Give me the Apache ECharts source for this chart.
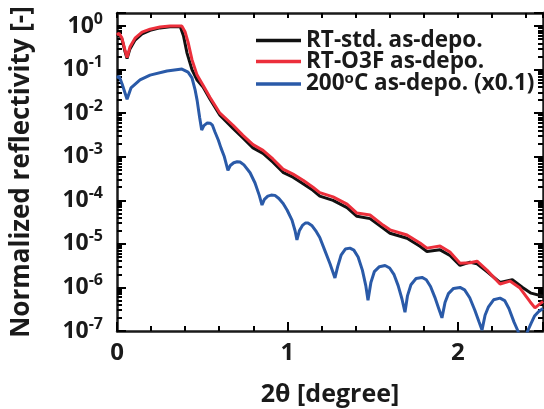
<!DOCTYPE html>
<html>
<head>
<meta charset="utf-8">
<script src="https://cdn.jsdelivr.net/npm/echarts@6/dist/echarts.min.js"></script>
<style>
  html, body { margin: 0; padding: 0; background: #fff; }
  #xrrChart { width: 544px; height: 409px; }
</style>
</head>
<body>
<div id="xrrChart"></div>
<script>
// RT-std. as-depo.
var stdX = [0, 0.012, 0.029, 0.047, 0.059, 0.076, 0.106, 0.147, 0.194, 0.252, 0.311, 0.36, 0.372, 0.39, 0.411, 0.44, 0.47, 0.505, 0.546, 0.604,
  0.681, 0.739, 0.798, 0.857, 0.915, 0.974, 1.033, 1.092, 1.15, 1.19, 1.268, 1.35, 1.408, 1.485, 1.561, 1.602, 1.702, 1.778, 1.819,
  1.896, 1.954, 2.013, 2.072, 2.113, 2.171, 2.248, 2.32, 2.38, 2.43, 2.5];
var stdY = [0.60, 0.66, 0.50, 0.26, 0.18, 0.30, 0.48, 0.66, 0.80, 0.91, 0.97, 0.98, 0.95, 0.6, 0.24, 0.10, 0.058, 0.04, 0.021, 0.009,
  4.5e-3, 2.7e-3, 1.6e-3, 1.2e-3, 7.5e-4, 4.4e-4, 3.4e-4, 2.4e-4, 1.7e-4, 1.25e-4, 1.0e-4, 6.8e-5, 4.3e-5, 3.8e-5, 2.3e-5, 1.75e-5, 1.35e-5, 8.8e-6, 6.7e-6,
  7.3e-6, 5.4e-6, 3.2e-6, 3.8e-6, 3.5e-6, 2.3e-6, 1.3e-6, 1.5e-6, 1.0e-6, 7.4e-7, 6.3e-7];

// RT-O3F as-depo.
var o3fX = [0, 0.012, 0.029, 0.047, 0.059, 0.076, 0.106, 0.147, 0.194, 0.252, 0.311, 0.381, 0.4, 0.417, 0.44, 0.47, 0.505, 0.546, 0.604,
  0.681, 0.739, 0.798, 0.857, 0.915, 0.974, 1.033, 1.092, 1.15, 1.19, 1.268, 1.35, 1.408, 1.485, 1.561, 1.602, 1.702, 1.778, 1.819,
  1.896, 1.954, 2.013, 2.072, 2.113, 2.171, 2.248, 2.306, 2.365, 2.424, 2.453, 2.5];
var o3fY = [0.62, 0.69, 0.53, 0.28, 0.19, 0.33, 0.53, 0.73, 0.85, 0.95, 1.0, 1.0, 0.73, 0.43, 0.17, 0.075, 0.044, 0.023, 0.010,
  5.3e-3, 3.1e-3, 1.9e-3, 1.4e-3, 8.9e-4, 5.2e-4, 4.0e-4, 2.9e-4, 2.0e-4, 1.5e-4, 1.2e-4, 8.2e-5, 5.1e-5, 4.6e-5, 2.7e-5, 2.1e-5, 1.6e-5, 1.05e-5, 8.0e-6,
  8.9e-6, 6.5e-6, 3.6e-6, 3.7e-6, 4.0e-6, 2.5e-6, 1.2e-6, 1.4e-6, 9.7e-7, 4.7e-7, 3.4e-7, 4.8e-7];

// 200oC as-depo. (x0.1)
var hotX = [0, 0.012, 0.03, 0.059, 0.082, 0.135, 0.194, 0.293, 0.381, 0.417, 0.44, 0.458, 0.47, 0.485, 0.497,
  0.51, 0.53, 0.546, 0.56, 0.575, 0.595, 0.61, 0.63, 0.651,
  0.665, 0.685, 0.705, 0.722, 0.745, 0.781, 0.81, 0.835, 0.851,
  0.865, 0.885, 0.905, 0.927, 0.95, 0.975, 0.998, 1.027, 1.045, 1.056,
  1.07, 1.09, 1.105, 1.121, 1.145, 1.17, 1.19, 1.22, 1.25, 1.279,
  1.295, 1.315, 1.34, 1.367, 1.39, 1.415, 1.44, 1.46, 1.473,
  1.49, 1.51, 1.54, 1.573, 1.6, 1.625, 1.65, 1.672, 1.69,
  1.705, 1.725, 1.755, 1.79, 1.815, 1.84, 1.865, 1.888, 1.907,
  1.925, 1.945, 1.975, 2.013, 2.04, 2.07, 2.10, 2.125, 2.142,
  2.16, 2.18, 2.21, 2.248, 2.275, 2.30, 2.33, 2.353, 2.38,
  2.41, 2.43, 2.45, 2.475, 2.5];
var hotY = [0.064, 0.071, 0.047, 0.021, 0.038, 0.058, 0.075, 0.093, 0.103, 0.088, 0.065, 0.035, 0.02, 0.008, 0.0041,
  0.0052, 0.0060, 0.0059, 0.0053, 0.0037, 0.0024, 0.0016, 0.001, 4.9e-4,
  6.3e-4, 7.3e-4, 7.7e-4, 7.6e-4, 6.5e-4, 4.3e-4, 2.5e-4, 1.3e-4, 7.8e-5,
  1.05e-4, 1.25e-4, 1.32e-4, 1.3e-4, 1.1e-4, 8.5e-5, 6e-5, 3.5e-5, 2e-5, 1.23e-5,
  2.0e-5, 2.7e-5, 3.0e-5, 3.0e-5, 2.6e-5, 1.9e-5, 1.4e-5, 7e-6, 3.5e-6, 1.65e-6,
  3.0e-6, 5.5e-6, 7.6e-6, 8.0e-6, 7.2e-6, 5.0e-6, 2.5e-6, 1.1e-6, 5.1e-7,
  1.3e-6, 2.3e-6, 3.0e-6, 3.2e-6, 2.8e-6, 2.0e-6, 1.1e-6, 5.5e-7, 2.7e-7,
  6.5e-7, 1.15e-6, 1.6e-6, 1.7e-6, 1.5e-6, 1.05e-6, 6e-7, 3.3e-7, 2.0e-7,
  4.5e-7, 7.2e-7, 9.5e-7, 1.0e-6, 8.8e-7, 5.8e-7, 3.0e-7, 1.6e-7, 1.05e-7,
  2.3e-7, 3.6e-7, 5.2e-7, 5.7e-7, 5.0e-7, 3.3e-7, 1.6e-7, 1.0e-7, 4e-8,
  1.0e-7, 1.5e-7, 2.2e-7, 2.8e-7, 3.3e-7];

var legendNames = ['RT-std. as-depo.', 'RT-O3F as-depo.', '200°C as-depo. (x0.1)'];

var yMinorTicks = [];
for (var e = -7; e < 0; e++) {
  for (var m = 2; m <= 9; m++) yMinorTicks.push(m * Math.pow(10, e));
}
var yMax = 2;

function pairs(xs, ys) {
  return xs.map(function (x, i) { return [x, ys[i]]; });
}

var font = 'Open Sans';
var ink = '#1a1a1a';

function powLabel(v) {
  var lg = Math.log10(v);
  var n = Math.round(lg);
  if (Math.abs(lg - n) > 1e-6) return '';
  return '{b|10}{s|' + n + '}';
}

// axes that only carry ticks (no line), and axes that only draw the black frame
function tickOnly(len, custom) {
  // a gapless dash keeps every tick stroked on its own
  var t = { show: true, inside: true, length: len, lineStyle: { color: '#000000', width: 2, type: [40, 0] } };
  if (custom) t.customValues = custom;
  return t;
}
var noTick = { show: false };
var hidden = { show: false };
function frameAxis(type, pos, min, max) {
  return {
    type: type, position: pos, min: min, max: max,
    axisLine: { show: true, onZero: false, lineStyle: { color: ink, width: 2.5 } },
    axisTick: noTick, axisLabel: hidden, splitLine: hidden
  };
}

var yMinorLog = yMinorTicks.map(function (v) { return Math.log10(v); });

var options = {
  animation: false,
  grid: { left: 117, right: 1, top: 13, bottom: 78, outerBoundsMode: 'none' },
  legend: [0, 1, 2].map(function (i) {
    return {
      orient: 'vertical', left: 256, top: 29 + 21 * i, padding: 0,
      icon: 'rect', itemWidth: 45, itemHeight: 3.5,
      data: [legendNames[i]],
      formatter: function (name) {
        var parts = name.split('°');
        if (parts.length === 1) return '{n|' + name + '}';
        return '{n|' + parts[0] + '}{sup|o}{n|' + parts[1] + '}';
      },
      textStyle: {
        fontFamily: font, fontWeight: 'bold', fontSize: 22.5, color: ink,
        rich: {
          n: { fontFamily: font, fontWeight: 'bold', fontSize: 22.5, color: ink, lineHeight: 26 },
          sup: { fontFamily: font, fontWeight: 'bold', fontSize: 15, color: ink, verticalAlign: 'top', lineHeight: 12 }
        }
      }
    };
  }),
  xAxis: [
    {
      type: 'value', position: 'bottom', min: 0, max: 2.5, interval: 0.2,
      axisLine: { show: false, onZero: false },
      axisTick: tickOnly(5),
      axisLabel: {
        margin: 10, fontFamily: font, fontWeight: 'bold', fontSize: 24, color: ink,
        formatter: function (v) { return Math.abs(v - Math.round(v)) < 1e-6 ? String(Math.round(v)) : ''; }
      },
      splitLine: hidden,
      name: '2θ [degree]', nameLocation: 'middle', nameGap: 51,
      nameTextStyle: { fontFamily: font, fontWeight: 'bold', fontSize: 25, color: ink }
    },
    {
      type: 'value', position: 'bottom', min: 0, max: 2.5, interval: 1,
      axisLine: { show: false, onZero: false },
      axisTick: tickOnly(9), axisLabel: hidden, splitLine: hidden
    },
    {
      type: 'value', position: 'top', min: 0, max: 2.5, interval: 0.2,
      axisLine: { show: false, onZero: false },
      axisTick: tickOnly(5), axisLabel: hidden, splitLine: hidden
    },
    frameAxis('value', 'bottom', 0, 2.5),
    frameAxis('value', 'top', 0, 2.5)
  ],
  yAxis: [
    {
      type: 'log', position: 'left', min: 1e-7, max: yMax, splitNumber: 8,
      axisLine: { show: false, onZero: false },
      axisTick: tickOnly(9),
      axisLabel: {
        formatter: powLabel, margin: 14,
        rich: {
          b: { fontFamily: font, fontWeight: 'bold', fontSize: 23, color: ink, lineHeight: 30 },
          s: { fontFamily: font, fontWeight: 'bold', fontSize: 16, color: ink, verticalAlign: 'top', lineHeight: 14 }
        }
      },
      splitLine: hidden,
      name: 'Normalized reflectivity [-]', nameLocation: 'middle', nameGap: 82,
      nameTextStyle: { fontFamily: font, fontWeight: 'bold', fontSize: 26, color: ink }
    },
    // minor ticks (2..9 x 10^n) on an overlay axis counted in decades
    {
      type: 'value', position: 'left', min: -7, max: Math.log10(yMax),
      axisLine: { show: false, onZero: false },
      axisTick: tickOnly(5, yMinorLog), axisLabel: hidden, splitLine: hidden
    },
    {
      type: 'log', position: 'right', min: 1e-7, max: yMax, splitNumber: 8,
      axisLine: { show: false, onZero: false },
      axisTick: tickOnly(9), axisLabel: hidden, splitLine: hidden
    },
    {
      type: 'value', position: 'right', min: -7, max: Math.log10(yMax),
      axisLine: { show: false, onZero: false },
      axisTick: tickOnly(5, yMinorLog), axisLabel: hidden, splitLine: hidden
    },
    frameAxis('value', 'left', -7, Math.log10(yMax)),
    frameAxis('value', 'right', -7, Math.log10(yMax))
  ],
  series: [
    {
      name: legendNames[0], type: 'line', data: pairs(stdX, stdY),
      symbol: 'none', color: '#111111', lineStyle: { width: 3 }
    },
    {
      name: legendNames[1], type: 'line', data: pairs(o3fX, o3fY),
      symbol: 'none', color: '#ec2f3b', lineStyle: { width: 3 }
    },
    {
      name: legendNames[2], type: 'line', data: pairs(hotX, hotY),
      symbol: 'none', color: '#2a5aa8', lineStyle: { width: 3 }
    }
  ]
};

var chart = echarts.init(document.getElementById('xrrChart'));
chart.setOption(options);
</script>
</body>
</html>
